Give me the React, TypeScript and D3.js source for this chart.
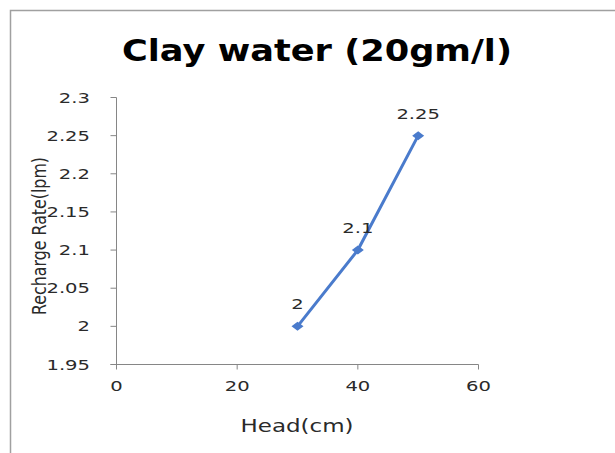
import React from "react";
import * as d3 from "d3";

const heads = [30, 40, 50];
const rates = [2, 2.1, 2.25];
const pointLabels = ["2", "2.1", "2.25"];
const yTicks = [1.95, 2, 2.05, 2.1, 2.15, 2.2, 2.25, 2.3];
const yTickLabels = ["1.95", "2", "2.05", "2.1", "2.15", "2.2", "2.25", "2.3"];
const xTicks = [0, 20, 40, 60];
const xTickLabels = ["0", "20", "40", "60"];
const title = "Clay water (20gm/l)";
const xTitle = "Head(cm)";
const yTitle = "Recharge Rate(lpm)";

const W = 615;
const H = 453;
const font = "'DejaVu Sans', sans-serif";
const SX = 1.35;

export default function App() {
  const x = d3.scaleLinear().domain([0, 60]).range([116.5, 478.5]);
  const y = d3.scaleLinear().domain([1.95, 2.3]).range([364.5, 97.5]);
  const pts = heads.map((h, i) => [x(h), y(rates[i])] as [number, number]);
  const line = d3.line()(pts) || "";
  const diamond = (cx: number, cy: number) =>
    `M${cx - 6},${cy} L${cx},${cy - 4.5} L${cx + 6},${cy} L${cx},${cy + 4.5} Z`;
  const axisColor = "#868686";
  return (
    <svg
      width={W}
      height={H}
      style={{ position: "absolute", left: 0, top: 0, background: "#fff" }}
    >
      <rect x={0} y={0} width={W} height={H} fill="#fff" />
      <path d={`M10.5,${H} L10.5,10.5 L${W},10.5`} fill="none" stroke="#a0a0a0" strokeWidth={1.5} />
      <text
        x={317}
        y={61}
        textAnchor="middle"
        fontFamily={font}
        fontWeight="bold"
        fontSize={31}
        textLength={390}
        lengthAdjust="spacingAndGlyphs"
        fill="#000"
      >
        {title}
      </text>
      {/* y axis */}
      <line x1={x(0)} x2={x(0)} y1={y(2.3)} y2={y(1.95)} stroke={axisColor} />
      {yTicks.map((t, i) => (
        <g key={"y" + i}>
          <line x1={x(0) - 6} x2={x(0)} y1={y(t)} y2={y(t)} stroke={axisColor} />
          <g transform={`translate(90,${y(t) + 5}) scale(${SX},1)`}>
            <text textAnchor="end" fontFamily={font} fontSize={14.5} fill="#2a2a2a">
              {yTickLabels[i]}
            </text>
          </g>
        </g>
      ))}
      {/* x axis */}
      <line x1={x(0) - 6} x2={x(60)} y1={y(1.95)} y2={y(1.95)} stroke={axisColor} />
      {xTicks.map((t, i) => (
        <g key={"x" + i}>
          <line x1={x(t)} x2={x(t)} y1={y(1.95)} y2={y(1.95) + 5} stroke={axisColor} />
          <g transform={`translate(${x(t)},391) scale(${SX},1)`}>
            <text textAnchor="middle" fontFamily={font} fontSize={14.5} fill="#2a2a2a">
              {xTickLabels[i]}
            </text>
          </g>
        </g>
      ))}
      <text
        x={297}
        y={432}
        textAnchor="middle"
        fontFamily={font}
        fontSize={17}
        textLength={113}
        lengthAdjust="spacingAndGlyphs"
        fill="#2a2a2a"
      >
        {xTitle}
      </text>
      <g transform={`translate(46,236) scale(${SX},1) rotate(-90)`}>
        <text
          x={0}
          y={0}
          textAnchor="middle"
          fontFamily={font}
          fontSize={15}
          textLength={158}
          lengthAdjust="spacingAndGlyphs"
          fill="#2a2a2a"
        >
          {yTitle}
        </text>
      </g>
      <path d={line} fill="none" stroke="#4a7bcc" strokeWidth={3} />
      {pts.map(([px, py], i) => (
        <path key={"m" + i} d={diamond(px, py)} fill="#4a7bcc" />
      ))}
      {pts.map(([px, py], i) => (
        <g key={"l" + i} transform={`translate(${px},${py - 17}) scale(${SX},1)`}>
          <text textAnchor="middle" fontFamily={font} fontSize={14.5} fill="#2a2a2a">
            {pointLabels[i]}
          </text>
        </g>
      ))}
    </svg>
  );
}
